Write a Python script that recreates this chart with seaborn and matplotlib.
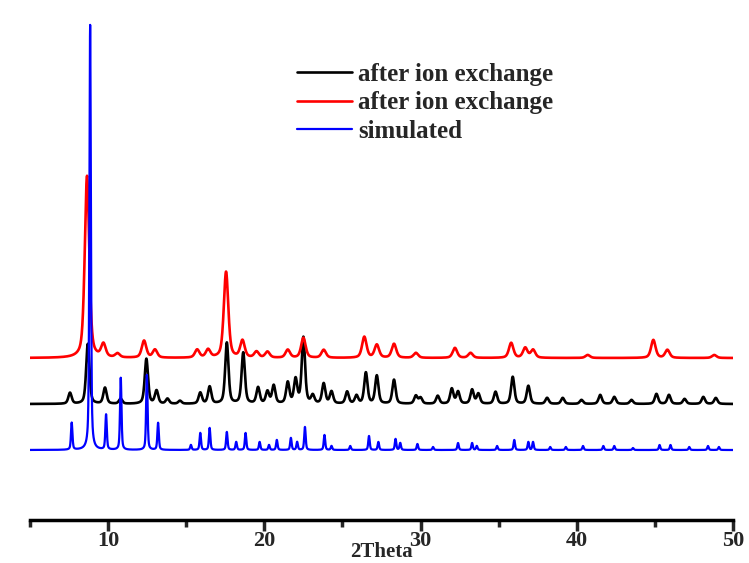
import numpy as np
import pandas as pd
import matplotlib
matplotlib.use("Agg")
import matplotlib.pyplot as plt
from matplotlib.ticker import MultipleLocator
import seaborn as sns

# Peak lists (2theta, height) for each pattern
sim_pos = [7.67, 8.85, 9.87, 10.81, 12.48, 13.2, 15.3, 15.9, 16.5, 17.6, 18.2, 18.8,
           19.7, 20.3, 20.8, 21.7, 22.1, 22.6, 23.85, 24.3, 25.5, 26.7, 27.3, 28.4,
           28.7, 29.8, 30.8, 32.4, 33.3, 33.6, 34.9, 36.0, 36.9, 37.2, 38.3, 39.3,
           40.4, 41.7, 42.4, 43.6, 45.3, 46.0, 47.2, 48.4, 49.1]
sim_int = [27, 425, 35, 72, 75, 27, 5, 17, 22, 18, 8, 17,
           8, 5, 10, 12, 8, 23, 15, 4, 4, 14, 8, 11,
           7, 6, 3, 7, 7, 4, 4, 10, 8, 8, 3, 3,
           4, 4, 4, 2, 5, 5, 3, 4, 3]

ie1_pos = [7.56, 8.7, 9.8, 10.8, 12.45, 13.1, 13.8, 14.6, 15.9, 16.5, 17.6, 18.65,
           19.6, 20.2, 20.6, 21.5, 22.0, 22.5, 23.1, 23.8, 24.3, 25.3, 25.9, 26.5,
           27.2, 28.3, 29.7, 30.0, 31.1, 32.0, 32.4, 33.3, 33.7, 34.8, 35.9, 36.9,
           38.1, 39.1, 40.3, 41.5, 42.4, 43.5, 45.1, 45.9, 46.9, 48.1, 48.9]
ie1_int = [11, 60, 16, 5, 45, 13, 5, 3, 11, 17, 61, 51,
           16, 12, 18, 21, 24, 66, 8, 20, 12, 12, 8, 31,
           28, 24, 8, 6, 8, 15, 12, 14, 10, 12, 27, 18,
           6, 6, 4, 9, 7, 4, 10, 9, 5, 7, 6]

ie2_pos = [8.65, 9.7, 10.6, 12.3, 13.0, 15.7, 16.4, 17.55, 18.6, 19.5, 20.2, 21.5,
           22.5, 23.8, 26.4, 27.2, 28.3, 29.7, 32.2, 33.2, 35.8, 36.7, 37.2, 40.7,
           44.9, 45.8, 48.8]
ie2_int = [182, 13, 4, 17, 8, 8, 8, 86, 17, 6, 6, 8,
           20, 8, 21, 13, 14, 5, 10, 5, 15, 10, 8, 3,
           18, 8, 3]

labels = ["after ion exchange", "after ion exchange", "simulated"]
colors = ["black", "red", "blue"]
offsets = [46, 92, 0]
fwhm = [0.25, 0.34, 0.11]

two_theta = np.linspace(5, 50, 4501)


def pattern(pos, inten, w):
    """Pseudo-Voigt sum of the listed reflections."""
    y = np.zeros_like(two_theta)
    for c, h in zip(pos, inten):
        d = (two_theta - c) / (w / 2)
        lor = 1.0 / (1.0 + d ** 2)
        gau = np.exp(-np.log(2) * d ** 2)
        y += h * (0.5 * lor + 0.5 * gau)
    return y


frames = []
for key, (pos, inten), off, w in zip(
        ["ie1", "ie2", "sim"],
        [(ie1_pos, ie1_int), (ie2_pos, ie2_int), (sim_pos, sim_int)],
        offsets, fwhm):
    frames.append(pd.DataFrame({"two_theta": two_theta,
                                "intensity": pattern(pos, inten, w) + off,
                                "key": key}))
df = pd.concat(frames, ignore_index=True)

sns.set_style("white")
plt.rcParams["font.family"] = ["Liberation Serif", "DejaVu Serif"]
plt.rcParams["font.weight"] = "bold"

fig = plt.figure(figsize=(7.49, 5.63), dpi=100)
ax = fig.add_axes([30 / 749, 43 / 563, 703 / 749, 520 / 563])

for key, lab, col, lw in zip(["ie1", "ie2", "sim"], labels, colors, [1.9, 1.9, 1.6]):
    sns.lineplot(data=df[df["key"] == key], x="two_theta", y="intensity",
                 color=col, lw=lw, label=lab, ax=ax)

ax.set_xlim(5, 50)
ax.set_ylim(-70, 450)
ax.set_yticks([])
ax.set_ylabel("")
for s in ["left", "right", "top"]:
    ax.spines[s].set_visible(False)
ax.spines["bottom"].set_linewidth(2.5)
ax.spines["bottom"].set_color("black")

ax.xaxis.set_major_locator(MultipleLocator(10))
ax.xaxis.set_minor_locator(MultipleLocator(5))
ax.tick_params(axis="x", which="major", direction="out", length=8, width=2.5,
               pad=0, labelsize=16, bottom=True)
ax.tick_params(axis="x", which="minor", direction="out", length=5, width=2.5,
               bottom=True)
for t in ax.get_xticklabels():
    t.set_fontweight("bold")
ax.set_xlabel("2Theta", fontsize=15, fontweight="bold", va="center")
ax.xaxis.set_label_coords(0.5, -32 / 520)

leg = ax.legend(loc="upper left", bbox_to_anchor=(297 / 749, 1 - 63 / 563),
                bbox_transform=fig.transFigure, frameon=False, borderpad=0,
                borderaxespad=0, handlelength=2.2, handletextpad=0.25,
                labelspacing=0.22, prop={"family": "Liberation Serif",
                                         "weight": "bold", "size": 18})

fig.savefig("out.png", dpi=100)
